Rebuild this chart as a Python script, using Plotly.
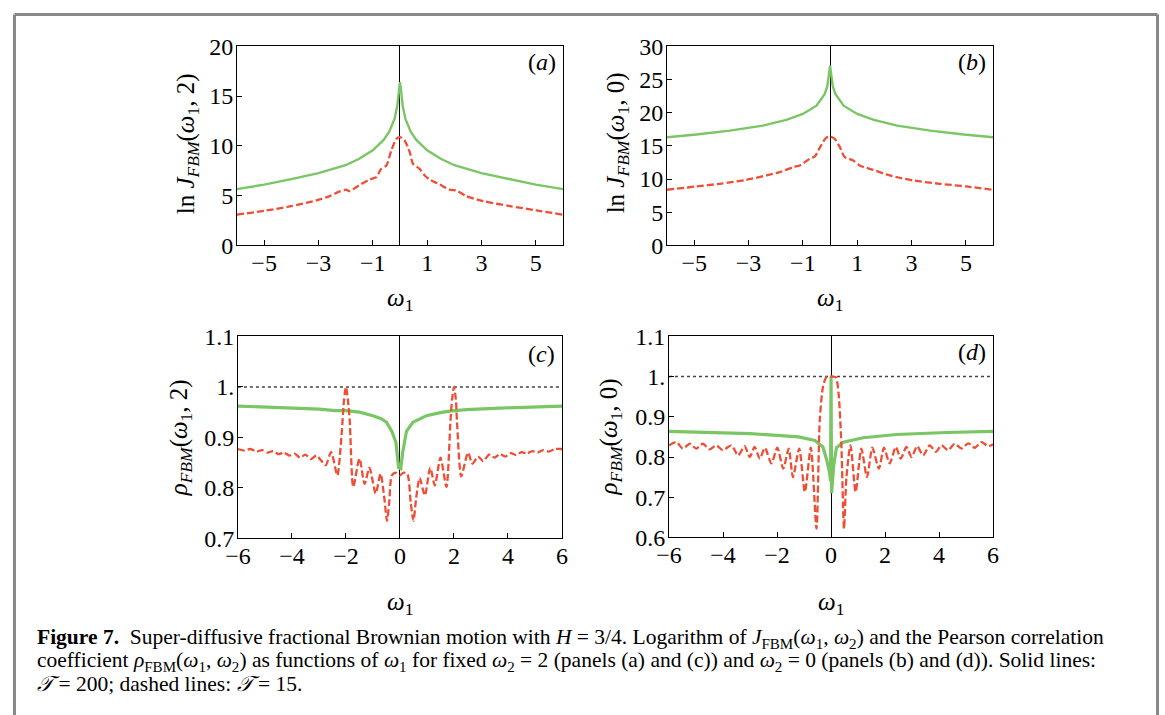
import plotly.graph_objects as go

W, H = 1165, 715

# ---------------- data ----------------
# Panel (a): ln J_FBM(w1, 2)
a_solid_w = [-6, -5, -4, -3, -2, -1.5, -1, -0.6, -0.4, -0.2, -0.1, -0.04, 0,
             0.04, 0.1, 0.2, 0.4, 0.6, 1, 1.5, 2, 3, 4, 5, 6]
a_solid_v = [5.65, 6.1, 6.65, 7.25, 8.05, 8.7, 9.55, 10.6, 11.4, 12.7, 14.0, 15.6, 16.4,
             15.6, 14.0, 12.7, 11.4, 10.6, 9.55, 8.7, 8.05, 7.25, 6.65, 6.1, 5.65]
a_dash_w = [-6, -4.92, -4.06, -3.08, -2.59, -2.22, -1.98, -1.85, -1.61, -1.12, -0.87, -0.69,
            -0.5, -0.32, -0.13, 0, 0.17, 0.36, 0.48, 0.72, 0.91, 1.09, 1.46, 1.83, 2.07,
            2.44, 3.06, 4.04, 5.02, 6]
a_dash_v = [3.08, 3.51, 3.91, 4.52, 4.95, 5.42, 5.59, 5.45, 5.85, 6.62, 6.86, 7.69,
            8.03, 9.53, 10.7, 10.87, 10.54, 9.36, 8.19, 7.69, 7.02, 6.62, 6.12, 5.59, 5.52,
            4.95, 4.45, 3.95, 3.51, 3.08]

# Panel (b): ln J_FBM(w1, 0)
b_solid_w = [-6, -4.92, -3.69, -2.47, -1.61, -1, -0.5, -0.2, -0.1, -0.04, 0,
             0.04, 0.1, 0.2, 0.5, 1, 1.61, 2.47, 3.69, 4.92, 6]
b_solid_v = [16.3, 16.7, 17.3, 18.05, 18.9, 19.8, 21.05, 22.8, 24.0, 25.8, 27.1,
             25.8, 24.0, 22.8, 21.05, 19.8, 18.9, 18.05, 17.3, 16.7, 16.3]
b_dash_w = [-6, -4.92, -4.06, -3.08, -2.34, -1.85, -1.36, -1.12, -0.75, -0.56, -0.38,
            -0.15, 0, 0.17, 0.36, 0.54, 0.85, 1.09, 1.58, 2.07, 2.56, 3.06, 4.04, 5.02, 6]
b_dash_v = [8.38, 8.88, 9.28, 9.88, 10.54, 11.04, 11.79, 12.04, 13.05, 13.4, 14.7,
            16.2, 16.4, 16.06, 14.8, 13.3, 12.8, 12.04, 11.39, 10.69, 10.19, 9.78, 9.28, 8.88, 8.38]

# Panel (c): rho_FBM(w1, 2)
c_solid_w = [-6, -4, -3, -2.4, -2, -1.5, -1, -0.7, -0.5, -0.3, -0.15, -0.05, 0.03,
             0.1, 0.24, 0.48, 0.98, 1.5, 1.84, 2.46, 3.69, 6]
c_solid_v = [0.962, 0.959, 0.956, 0.953, 0.953, 0.950, 0.943, 0.937, 0.930, 0.912, 0.89, 0.84, 0.838,
             0.87, 0.912, 0.930, 0.943, 0.949, 0.952, 0.955, 0.958, 0.962]
c_dash_w = [-6, -5.75, -5.55, -5.3, -5.1, -4.9, -4.7, -4.5, -4.3, -4.1, -3.9, -3.7, -3.5, -3.3,
            -3.1, -2.9, -2.75, -2.55, -2.32, -2.17, -2.07, -2.0, -1.93, -1.86, -1.73, -1.5,
            -1.31, -1.13, -0.9, -0.72, -0.58, -0.48, -0.4, -0.3, -0.15, 0, 0.12, 0.27, 0.4,
            0.5, 0.6, 0.73, 0.92, 1.12, 1.29, 1.5, 1.72, 1.87, 1.93, 2.0, 2.07, 2.11, 2.27,
            2.52, 2.68, 2.89, 3.08, 3.3, 3.5, 3.7, 3.9, 4.1, 4.3, 4.5, 4.7, 4.9, 5.1, 5.3,
            5.5, 5.75, 6]
c_dash_v = [0.877, 0.874, 0.877, 0.872, 0.875, 0.870, 0.873, 0.867, 0.870, 0.864, 0.868, 0.860,
            0.866, 0.857, 0.864, 0.853, 0.845, 0.871, 0.825, 0.900, 0.975, 1.0, 0.975, 0.933,
            0.802, 0.858, 0.808, 0.840, 0.789, 0.828, 0.78, 0.735, 0.77, 0.825, 0.83, 0.825,
            0.83, 0.828, 0.77, 0.735, 0.78, 0.820, 0.785, 0.840, 0.805, 0.860, 0.802, 0.933,
            0.975, 1.0, 0.975, 0.933, 0.823, 0.870, 0.848, 0.862, 0.853, 0.866, 0.860, 0.867,
            0.862, 0.869, 0.865, 0.871, 0.868, 0.873, 0.870, 0.875, 0.872, 0.877, 0.877]

# Panel (d): rho_FBM(w1, 0)
d_solid_w = [-6, -4, -3, -2, -1.2, -0.6, -0.3, -0.15, -0.05, -0.02, 0, 0.02, 0.05,
             0.1, 0.2, 0.45, 1.19, 2.42, 4.27, 6]
d_solid_v = [0.864, 0.860, 0.858, 0.854, 0.850, 0.841, 0.825, 0.79, 0.76, 0.74, 1.0, 0.71, 0.73,
             0.78, 0.823, 0.837, 0.848, 0.856, 0.861, 0.864]
d_dash_w = [-6, -5.73, -5.49, -5.23, -4.99, -4.75, -4.5, -4.25, -4.01, -3.69, -3.44, -3.2,
            -3.01, -2.83, -2.64, -2.45, -2.21, -1.99, -1.77, -1.57, -1.41, -1.18, -0.97,
            -0.75, -0.54, -0.42, -0.3, -0.18, -0.06, 0.06, 0.18, 0.28, 0.38, 0.48, 0.57, 0.72,
            0.91, 1.12, 1.33, 1.53, 1.77, 1.96, 2.17, 2.4, 2.58, 2.79, 2.98, 3.19, 3.41,
            3.65, 3.88, 4.09, 4.33, 4.58, 4.83, 5.08, 5.32, 5.57, 5.82, 6]
d_dash_v = [0.829, 0.837, 0.821, 0.833, 0.821, 0.833, 0.819, 0.829, 0.817, 0.829, 0.804, 0.827,
            0.800, 0.825, 0.796, 0.823, 0.784, 0.823, 0.771, 0.821, 0.750, 0.821, 0.713,
            0.823, 0.622, 0.89, 0.974, 0.998, 1.0, 1.0, 0.998, 0.957, 0.833, 0.622, 0.750,
            0.829, 0.713, 0.821, 0.750, 0.823, 0.771, 0.823, 0.784, 0.825, 0.796, 0.825,
            0.800, 0.827, 0.804, 0.829, 0.813, 0.829, 0.817, 0.833, 0.821, 0.834, 0.823,
            0.837, 0.827, 0.832]

ref_w = [-6, 6]
ref_v = [1.0, 1.0]

a_xticks = [-5, -3, -1, 1, 3, 5]
c_xticks = [-6, -4, -2, 0, 2, 4, 6]
a_yticks = [0, 5, 10, 15, 20]
b_yticks = [0, 5, 10, 15, 20, 25, 30]
c_yticks = [0.7, 0.8, 0.9, 1.0, 1.1]
c_yticklabels = ["0.7", "0.8", "0.9", "1.", "1.1"]
d_yticks = [0.6, 0.7, 0.8, 0.9, 1.0, 1.1]
d_yticklabels = ["0.6", "0.7", "0.8", "0.9", "1.", "1.1"]

caption_lines = [
    "<b>Figure 7.</b>  Super-diffusive fractional Brownian motion with <i>H</i> = 3/4. "
    "Logarithm of <i>J</i><sub>FBM</sub>(<i>ω</i><sub>1</sub>, <i>ω</i><sub>2</sub>) "
    "and the Pearson correlation",
    "coefficient <i>ρ</i><sub>FBM</sub>(<i>ω</i><sub>1</sub>, <i>ω</i><sub>2</sub>) as functions of "
    "<i>ω</i><sub>1</sub> for fixed <i>ω</i><sub>2</sub> = 2 (panels (a) and (c)) and "
    "<i>ω</i><sub>2</sub> = 0 (panels (b) and (d)). Solid lines:",
    "<i>𝒯</i> = 200; dashed lines: <i>𝒯</i> = 15.",
]

# ---------------- styling / layout ----------------
GREEN = "rgb(122,198,100)"
RED = "rgb(240,78,52)"
SERIF = "Liberation Serif"

# the photographed page maps figure pixels slightly inset; compensate
SX, OX = 0.9835, 13.1
SY, OY = 0.9634, 12.7

def fx(t):
    return ((t - OX) / SX) / W

def fy(t):
    return 1 - ((t - OY) / SY) / H

fig = go.Figure()

panels = [
    ("", (237, 563), (46, 245)),
    ("2", (667, 993), (46, 245)),
    ("3", (238, 562), (336, 538)),
    ("4", (669, 993), (336, 537)),
]

data = [
    (a_solid_w, a_solid_v, a_dash_w, a_dash_v, False),
    (b_solid_w, b_solid_v, b_dash_w, b_dash_v, False),
    (c_solid_w, c_solid_v, c_dash_w, c_dash_v, True),
    (d_solid_w, d_solid_v, d_dash_w, d_dash_v, True),
]

yranges = [[0, 20], [0, 30], [0.7, 1.1], [0.6, 1.1]]
ytickvals = [a_yticks, b_yticks, c_yticks, d_yticks]
yticktext = [[str(v) for v in a_yticks], [str(v) for v in b_yticks], c_yticklabels, d_yticklabels]
xtickvals = [a_xticks, a_xticks, c_xticks, c_xticks]

for i, ((suf, xd, yd), (sw, sv, dw, dv, isrho)) in enumerate(zip(panels, data)):
    xa = "x" + suf
    ya = "y" + suf
    if isrho:
        fig.add_trace(go.Scatter(x=ref_w, y=ref_v, mode="lines", xaxis=xa, yaxis=ya,
                                 line=dict(color="#444444", width=1.5, dash="dot"),
                                 showlegend=False, hoverinfo="skip"))
    fig.add_trace(go.Scatter(x=sw, y=sv, mode="lines", xaxis=xa, yaxis=ya,
                             line=dict(color=GREEN, width=3.2 if isrho else 2.4),
                             showlegend=False))
    fig.add_trace(go.Scatter(x=dw, y=dv, mode="lines", xaxis=xa, yaxis=ya,
                             line=dict(color=RED, width=2.3, dash="7px,3px",
                                       shape="spline", smoothing=0.7),
                             showlegend=False))
    axis_common = dict(showline=True, linecolor="black", linewidth=1, mirror=True,
                       ticks="inside", ticklen=5, tickwidth=1, tickcolor="black",
                       showgrid=False,
                       tickfont=dict(family=SERIF, size=24, color="black"))
    fig.layout["xaxis" + suf] = dict(domain=[fx(xd[0]), fx(xd[1])], range=[-6, 6], anchor=ya,
                                     tickvals=xtickvals[i], zeroline=True,
                                     zerolinecolor="black", zerolinewidth=1,
                                     ticklabelstandoff=-4, **axis_common)
    fig.layout["yaxis" + suf] = dict(domain=[fy(yd[1]), fy(yd[0])], range=yranges[i], anchor=xa,
                                     tickvals=ytickvals[i], ticktext=yticktext[i],
                                     zeroline=False, ticklabelstandoff=-2, **axis_common)

ann = []
for cx, cy in [(400, 299), (830, 299), (400, 603), (831, 603)]:
    ann.append(dict(x=fx(cx), y=fy(cy), xref="paper", yref="paper",
                    text="<i>ω</i><sub>1</sub>", showarrow=False,
                    font=dict(family=SERIF, size=25, color="black"),
                    xanchor="center", yanchor="middle"))
ytitles = [
    (187, 143, "ln <i>J</i><sub><i>FBM</i></sub>(<i>ω</i><sub>1</sub>, 2)"),
    (617, 143, "ln <i>J</i><sub><i>FBM</i></sub>(<i>ω</i><sub>1</sub>, 0)"),
    (180, 437, "<i>ρ</i><sub><i>FBM</i></sub>(<i>ω</i><sub>1</sub>, 2)"),
    (610, 437, "<i>ρ</i><sub><i>FBM</i></sub>(<i>ω</i><sub>1</sub>, 0)"),
]
for cx, cy, t in ytitles:
    ann.append(dict(x=fx(cx), y=fy(cy), xref="paper", yref="paper", text=t,
                    showarrow=False, textangle=-90,
                    font=dict(family=SERIF, size=25, color="black"),
                    xanchor="center", yanchor="middle"))
for cx, cy, t in [(542, 62, "(<i>a</i>)"), (972, 62, "(<i>b</i>)"),
                  (541, 354, "(<i>c</i>)"), (972, 352, "(<i>d</i>)")]:
    ann.append(dict(x=fx(cx), y=fy(cy), xref="paper", yref="paper", text=t,
                    showarrow=False, font=dict(family=SERIF, size=24, color="black"),
                    xanchor="center", yanchor="middle"))
for k, line in enumerate(caption_lines):
    ann.append(dict(x=fx(35), y=fy(638 + 23 * k), xref="paper", yref="paper",
                    text=line, showarrow=False, align="left", xanchor="left",
                    yanchor="middle", font=dict(family=SERIF, size=21.5, color="black")))

bx0, bx1, by0 = 1.5 / W, 1163.5 / W, 1 - 1.5 / H
shapes = [
    dict(type="line", xref="paper", yref="paper", x0=bx0, x1=bx0, y0=-0.05, y1=by0,
         line=dict(color="#888888", width=3)),
    dict(type="line", xref="paper", yref="paper", x0=bx0, x1=bx1, y0=by0, y1=by0,
         line=dict(color="#888888", width=3)),
    dict(type="line", xref="paper", yref="paper", x0=bx1, x1=bx1, y0=-0.05, y1=by0,
         line=dict(color="#888888", width=3)),
]

fig.update_layout(width=W, height=H, margin=dict(l=0, r=0, t=0, b=0),
                  paper_bgcolor="white", plot_bgcolor="white",
                  annotations=ann, shapes=shapes, showlegend=False)

fig.write_html("out.html",
               config={"displayModeBar": False},
               post_script="document.body.style.margin='0';"
                           "document.body.style.overflow='hidden';"
                           "document.documentElement.style.overflow='hidden';")
